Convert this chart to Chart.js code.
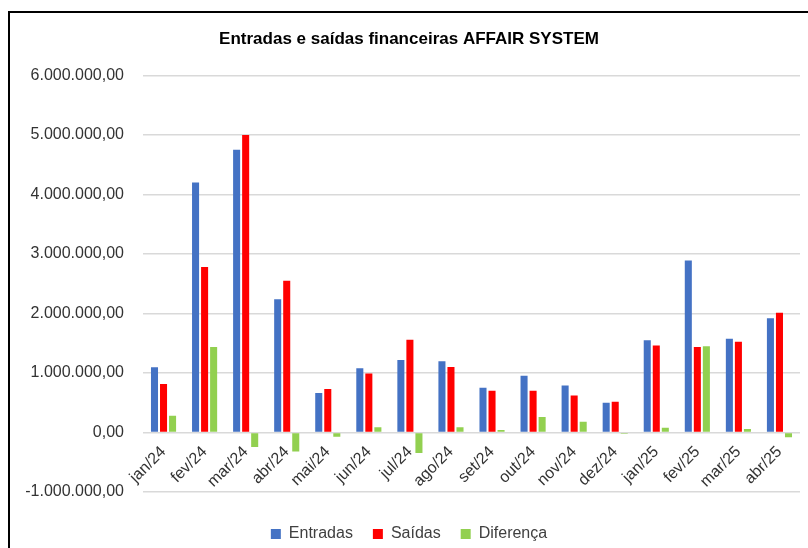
<!DOCTYPE html>
<html>
<head>
<meta charset="utf-8">
<script src="https://cdn.jsdelivr.net/npm/chart.js@4"></script>
<style>
  html, body { margin: 0; padding: 0; background: #fff; overflow: hidden; }
  #frame { position: absolute; left: 8px; top: 11px; width: 830px; height: 580px; border: 2px solid #000; }
  #wrap { position: absolute; left: 0; top: 0; width: 808px; height: 548px; }
</style>
</head>
<body>
<div id="frame"></div>
<div id="wrap"><canvas id="chart" width="808" height="548"></canvas></div>
<script>
// meses
var labels = ["jan/24", "fev/24", "mar/24", "abr/24", "mai/24", "jun/24", "jul/24", "ago/24",
              "set/24", "out/24", "nov/24", "dez/24", "jan/25", "fev/25", "mar/25", "abr/25"];

var entradas  = [1095000, 4200000, 4750000, 2240000, 665000, 1080000, 1220000, 1195000,
                 750000, 955000, 790000, 500000, 1550000, 2890000, 1575000, 1920000];
var saidas    = [815000, 2780000, 5000000, 2550000, 730000, 990000, 1560000, 1100000,
                 700000, 700000, 620000, 515000, 1460000, 1435000, 1525000, 2010000];
var diferenca = [280000, 1435000, -245000, -320000, -70000, 90000, -345000, 90000,
                 40000, 260000, 180000, -20000, 80000, 1450000, 60000, -80000];

var yMin = -1000000, yMax = 6000000, yStep = 1000000;

function fmtBR(v) {
    var neg = v < 0;
    var s = Math.abs(Math.round(v)).toString();
    s = s.replace(/\B(?=(\d{3})+(?!\d))/g, ".");
    return (neg ? "-" : "") + s + ",00";
}

var ctx = document.getElementById("chart").getContext("2d");
new Chart(ctx, {
    type: "bar",
    data: {
        labels: labels,
        datasets: [
            { label: "Entradas", data: entradas, backgroundColor: "#4472C4" },
            { label: "Saídas", data: saidas, backgroundColor: "#FF0000" },
            { label: "Diferença", data: diferenca, backgroundColor: "#92D050" }
        ]
    },
    options: {
        responsive: false,
        animation: false,
        categoryPercentage: 0.66,
        barPercentage: 0.78,
        layout: { padding: { left: 18, right: 8, top: 0, bottom: -4 } },
        plugins: {
            title: {
                display: true,
                text: "Entradas e saídas financeiras AFFAIR SYSTEM",
                color: "#000",
                font: { family: "Liberation Sans", size: 17, weight: "bold" },
                padding: { top: 29, bottom: 26 }
            },
            legend: {
                position: "bottom",
                // empty title only pushes the legend row down
                title: { display: true, text: "", font: { size: 14, lineHeight: 1 }, padding: 0 },
                labels: {
                    boxWidth: 10,
                    boxHeight: 10,
                    padding: 20,
                    color: "#404040",
                    font: { family: "Liberation Sans", size: 16 }
                }
            },
            tooltip: { enabled: false }
        },
        scales: {
            x: {
                position: { y: 0 },
                grid: { display: false },
                border: { display: false },
                ticks: {
                    minRotation: 45,
                    maxRotation: 45,
                    padding: 2,
                    color: "#333",
                    font: { family: "Liberation Sans", size: 16 }
                }
            },
            y: {
                min: yMin,
                max: yMax,
                afterFit: function(scale) { scale.width = 125; },
                grid: { color: "#d9d9d9", lineWidth: 1.5, drawTicks: false },
                border: { display: false },
                ticks: {
                    stepSize: yStep,
                    padding: 19,
                    color: "#333",
                    font: { family: "Liberation Sans", size: 16 },
                    callback: function(v) { return fmtBR(v); }
                }
            }
        }
    }
});
</script>
</body>
</html>
